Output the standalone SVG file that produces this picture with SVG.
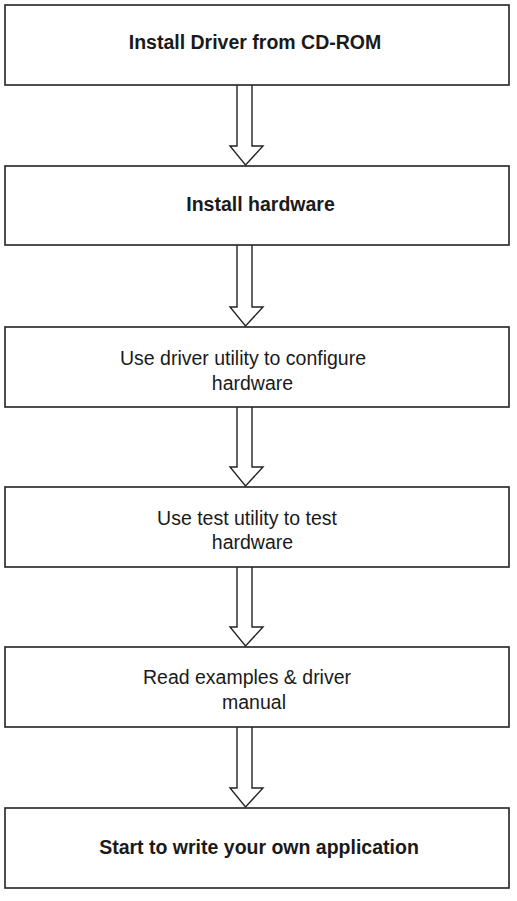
<svg xmlns="http://www.w3.org/2000/svg" width="517" height="901" viewBox="0 0 517 901">
<style>
.box{fill:#fff;stroke:#222;stroke-width:1.6}
.arr{fill:#fff;stroke:#222;stroke-width:1.4;stroke-linejoin:miter}
text{font-family:"Liberation Sans",Arial,sans-serif;font-size:19.5px;fill:#1a1a1a;text-anchor:middle}
.b{font-weight:bold}
</style>
<rect width="517" height="901" fill="#fff"/>
<g id="connectors">
<path class="arr" d="M237,85 V146 H230 L245.5,165 L263,146 H252 V85"/>
<path class="arr" d="M237,245 V307 H230 L245.5,326 L263,307 H252 V245"/>
<path class="arr" d="M237,407 V467 H230 L245.5,486 L263,467 H252 V407"/>
<path class="arr" d="M237,567 V627 H230 L245.5,646 L263,627 H252 V567"/>
<path class="arr" d="M237,727 V788 H230 L245.5,807 L263,788 H252 V727"/>
</g>
<g id="n1"><rect class="box" x="5" y="5" width="504" height="80"/><text class="b" x="255" y="49">Install Driver from CD-ROM</text></g>
<g id="n2"><rect class="box" x="5" y="166" width="504" height="79"/><text class="b" x="260.5" y="211">Install hardware</text></g>
<g id="n3"><rect class="box" x="5" y="327" width="504" height="80"/><text x="243" y="365">Use driver utility to configure</text><text x="252.5" y="390">hardware</text></g>
<g id="n4"><rect class="box" x="5" y="487" width="504" height="80"/><text x="247" y="525">Use test utility to test</text><text x="252.5" y="549">hardware</text></g>
<g id="n5"><rect class="box" x="5" y="647" width="504" height="80"/><text x="247" y="684">Read examples &amp; driver</text><text x="254" y="709">manual</text></g>
<g id="n6"><rect class="box" x="5" y="808" width="504" height="80"/><text class="b" x="259" y="854">Start to write your own application</text></g>
</svg>
